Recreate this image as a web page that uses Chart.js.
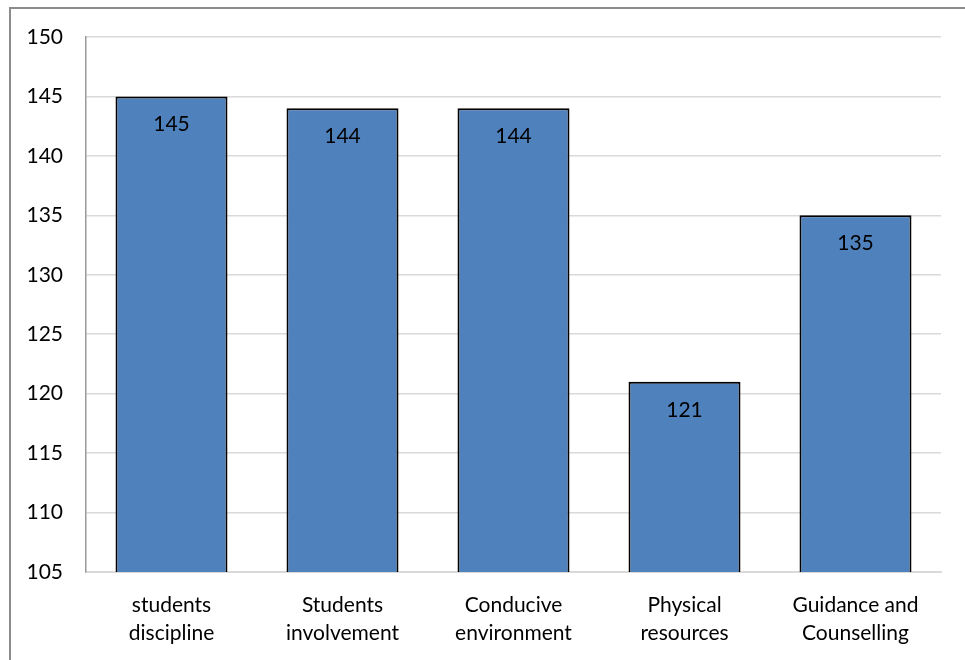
<!DOCTYPE html>
<html>
<head>
<meta charset="utf-8">
<script src="https://cdn.jsdelivr.net/npm/chart.js@4/dist/chart.umd.min.js"></script>
<style>
  html, body { margin: 0; padding: 0; background: #fff; }
  #wrap { position: relative; width: 965px; height: 660px; }
  #frame { position: absolute; left: 9px; top: 7px; right: -10px; bottom: -10px;
           border-left: 2px solid #8c8c8c; border-top: 2px solid #8c8c8c; pointer-events: none; }
  canvas { display: block; }
</style>
</head>
<body>
<div id="wrap">
  <canvas id="chart" width="965" height="660"></canvas>
  <div id="frame"></div>
</div>
<script>
const categories = [
  ['students', 'discipline'],
  ['Students', 'involvement'],
  ['Conducive', 'environment'],
  ['Physical', 'resources'],
  ['Guidance and', 'Counselling']
];
const values = [145, 144, 144, 121, 135];
const yTicks = { min: 105, max: 150, step: 5 };

const FONT = 'Lato, "Open Sans", sans-serif';

// Writes each bar's value just inside the top of the bar
const valueLabels = {
  id: 'valueLabels',
  afterDatasetsDraw(chart) {
    const ctx = chart.ctx;
    const meta = chart.getDatasetMeta(0);
    ctx.save();
    ctx.font = '21px ' + FONT;
    ctx.fillStyle = '#000';
    ctx.textAlign = 'center';
    ctx.textBaseline = 'middle';
    meta.data.forEach((bar, i) => {
      ctx.fillText(String(values[i]), bar.x, bar.y + 28);
    });
    ctx.restore();
  }
};

new Chart(document.getElementById('chart'), {
  type: 'bar',
  data: {
    labels: categories,
    datasets: [{
      data: values,
      backgroundColor: '#4F81BD',
      borderColor: '#000000',
      borderWidth: 2,
      borderSkipped: 'bottom',
      barPercentage: 0.655,
      categoryPercentage: 1.0
    }]
  },
  options: {
    responsive: false,
    animation: false,
    layout: { padding: { left: 0, right: 24, top: 37, bottom: 0 } },
    plugins: {
      legend: { display: false },
      tooltip: { enabled: false }
    },
    scales: {
      x: {
        grid: { display: false, drawTicks: false },
        border: { display: true, color: '#d9d9d9', width: 2 },
        ticks: {
          color: '#000',
          font: { family: FONT, size: 21, lineHeight: 1.3 },
          padding: 20,
          maxRotation: 0
        },
        afterFit(scale) { scale.height = 88; }
      },
      y: {
        min: yTicks.min,
        max: yTicks.max,
        grid: { color: '#d9d9d9', lineWidth: 1.5, drawTicks: false },
        border: { display: true, color: '#999999', width: 1.5 },
        ticks: {
          stepSize: yTicks.step,
          color: '#000',
          font: { family: FONT, size: 21 },
          padding: 23
        },
        afterFit(scale) { scale.width = 86; }
      }
    }
  },
  plugins: [valueLabels]
});
</script>
</body>
</html>
